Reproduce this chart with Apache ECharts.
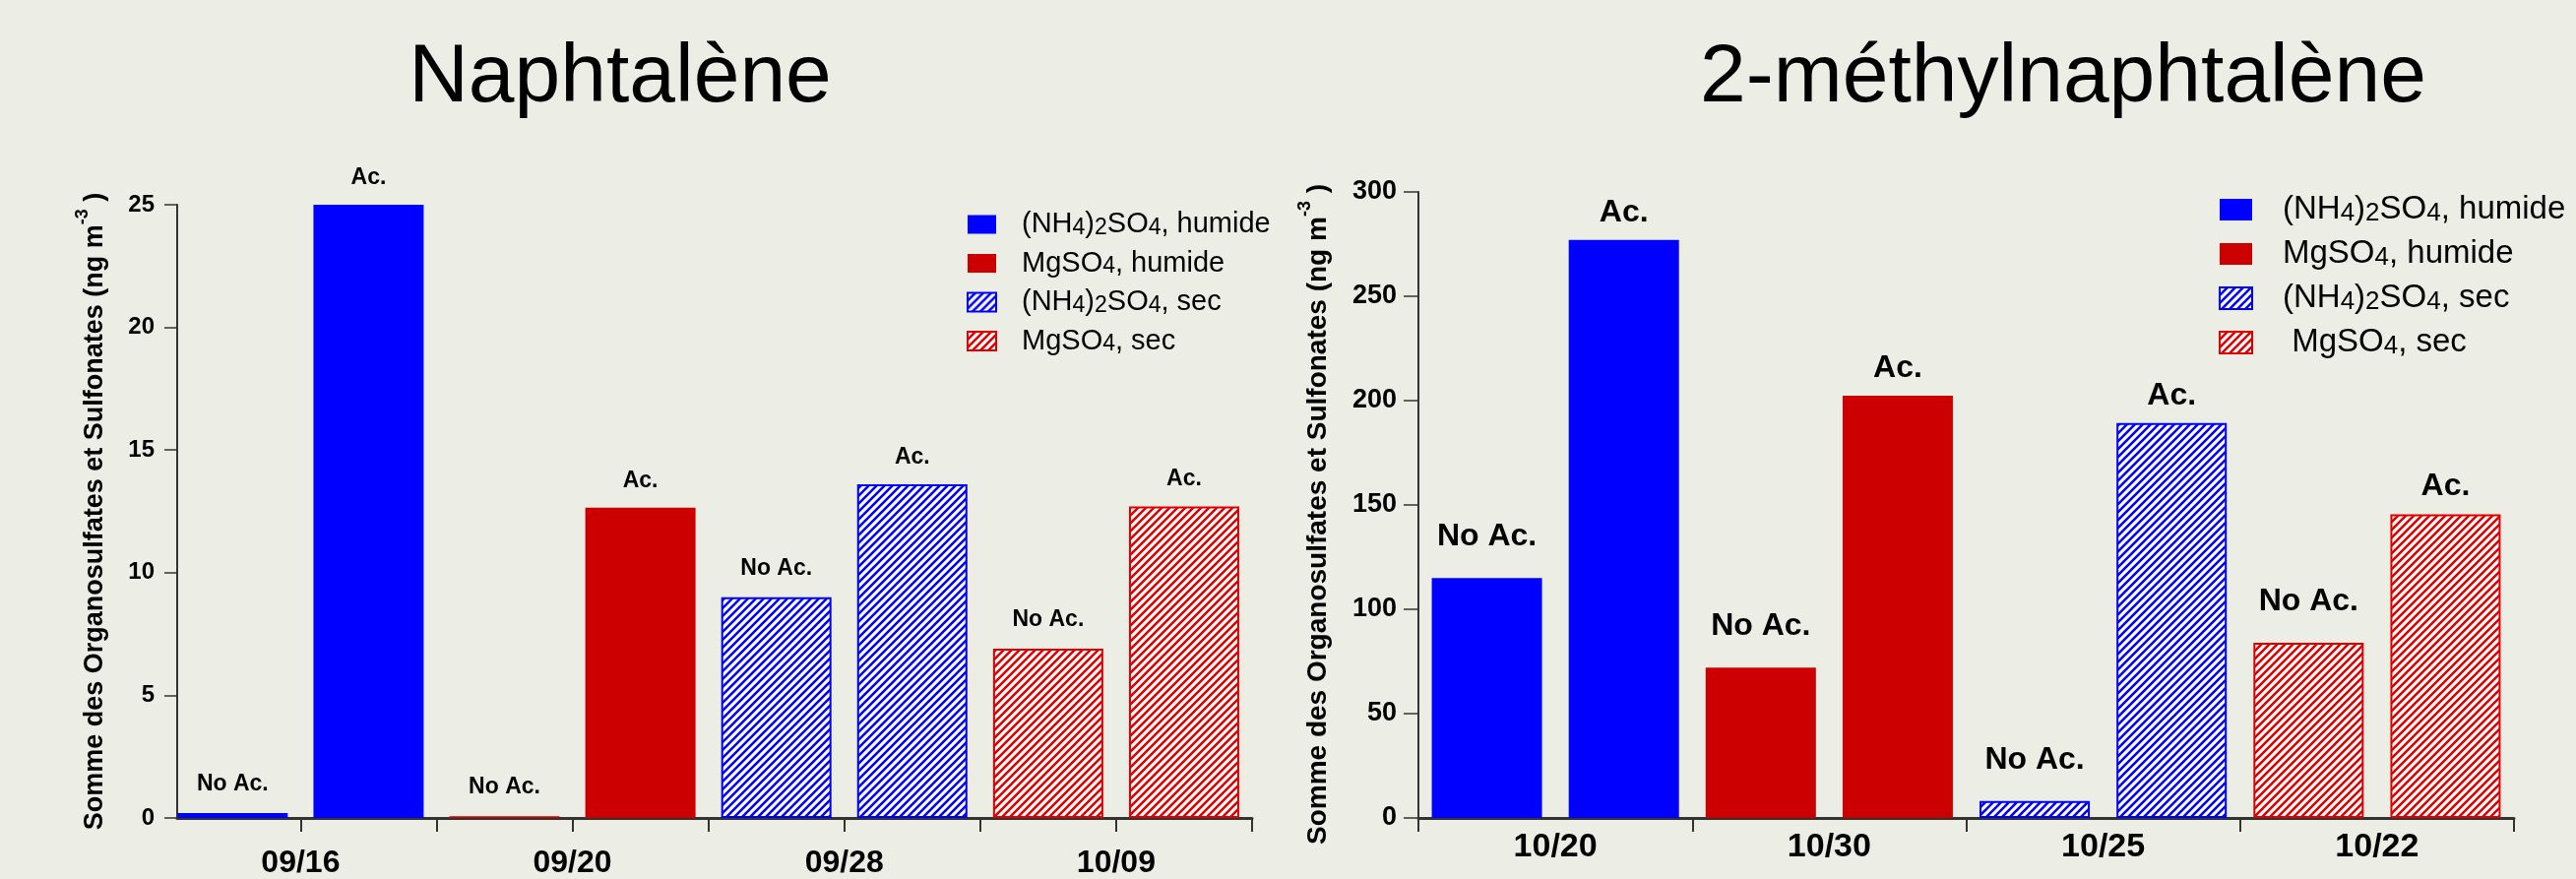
<!DOCTYPE html>
<html><head><meta charset="utf-8">
<script src="https://cdn.jsdelivr.net/npm/echarts@6/dist/echarts.min.js"></script>
<style>html,body{margin:0;padding:0;background:#ECEEE6}#c{width:2617px;height:893px}</style>
</head><body><div id="c"></div>
<script>
// ---------- data ----------
const leftTitle = 'Naphtalène';
const rightTitle = '2-méthylnaphtalène';
const yAxisName = 'Somme des Organosulfates et Sulfonates (ng m{sup|-3} )';
const leftDates = ['09/16', '09/20', '09/28', '10/09'];
const rightDates = ['10/20', '10/30', '10/25', '10/22'];
const barTags = ['No Ac.', 'Ac.', 'No Ac.', 'Ac.', 'No Ac.', 'Ac.', 'No Ac.', 'Ac.'];
const leftValues = [0.2, 25, 0.07, 12.65, 9.0, 13.6, 6.9, 12.7];
const rightValues = [115, 277, 72, 202.4, 8.1, 189.3, 84, 145.5];
const leftLegend = ['(NH{s|4}){s|2}SO{s|4}, humide', 'MgSO{s|4}, humide', '(NH{s|4}){s|2}SO{s|4}, sec', 'MgSO{s|4}, sec'];
const rightLegend = ['(NH{s|4}){s|2}SO{s|4}, humide', 'MgSO{s|4}, humide', '(NH{s|4}){s|2}SO{s|4}, sec', ' MgSO{s|4}, sec'];
const leftYTicks = { min: 0, max: 25, interval: 5 };
const rightYTicks = { min: 0, max: 300, interval: 50 };

// ---------- helpers ----------
const F = 'Liberation Sans, Arial, sans-serif';
const BLUE = '#0000FF', RED = '#CC0000', RED_H = '#E00000';
function hatch(col) {
  const c = document.createElement('canvas');
  c.width = 8; c.height = 8;
  const g = c.getContext('2d');
  g.fillStyle = '#ffffff'; g.fillRect(0, 0, 8, 8);
  g.strokeStyle = col; g.lineWidth = 2.6; g.lineCap = 'square';
  g.beginPath();
  g.moveTo(-2, 10); g.lineTo(10, -2);
  g.moveTo(-6, 6); g.lineTo(6, -6);
  g.moveTo(2, 14); g.lineTo(14, 2);
  g.stroke();
  return { image: c, repeat: 'repeat' };
}
const itemStyles = [
  { color: BLUE },
  { color: RED },
  { color: hatch(BLUE), borderColor: BLUE, borderWidth: 2 },
  { color: hatch(RED_H), borderColor: RED_H, borderWidth: 2 }
];

// slot k (bar k) sits at k + 0.5 on the x value scale; two slots per date
const nSlots = barTags.length;
const slotBounds = Array.from({ length: nSlots }, (_, k) => k + 1);          // 1..8
const groupBounds = Array.from({ length: nSlots / 2 + 1 }, (_, k) => 2 * k); // 0,2,4,6,8
const groupCenters = Array.from({ length: nSlots / 2 }, (_, k) => 2 * k + 1); // 1,3,5,7

function makeSeries(prefix, values, xIdx, yIdx, labelSize, labelDist) {
  return [0, 1, 2, 3].map(i => ({
    name: prefix + i,
    type: 'bar',
    xAxisIndex: xIdx, yAxisIndex: yIdx,
    barGap: '-100%',
    barWidth: 112,
    itemStyle: itemStyles[i],
    data: values.map((v, j) => ({ value: [j + 0.5, v], label: { distance: labelDist[barTags[j]] } }))
      .filter((_, j) => Math.floor(j / 2) === i),
    label: {
      show: true, position: 'top',
      formatter: p => barTags[Math.floor(p.value[0])],
      fontFamily: F, fontWeight: 'bold', fontSize: labelSize, color: '#000'
    },
    emphasis: { disabled: true },
    animation: false
  }));
}

const axisLineStyle = w => ({ show: true, onZero: false, lineStyle: { color: '#333', width: w } });

function yName(size, gap, endPad) {
  return {
    name: yAxisName, nameLocation: 'middle', nameGap: gap, nameRotate: 90,
    nameTextStyle: { fontFamily: F, fontWeight: 'bold', fontSize: size, lineHeight: 44, color: '#000',
      padding: [0, endPad, 0, 0],
      rich: { sup: { fontFamily: F, fontWeight: 'bold', fontSize: Math.round(size * 0.66), lineHeight: 8, verticalAlign: 'top', color: '#000' } } }
  };
}

const option = {
  backgroundColor: '#ECEEE6',
  animation: false,
  title: [
    { text: leftTitle, left: 625, top: 33, textAlign: 'center',
      textStyle: { fontFamily: F, fontSize: 84, fontWeight: 'normal', color: '#000' } },
    { text: rightTitle, left: 2091, top: 33, textAlign: 'center',
      textStyle: { fontFamily: F, fontSize: 84, fontWeight: 'normal', color: '#000' } }
  ],
  legend: [
    { left: 977, top: 208, orient: 'vertical', icon: 'rect', itemWidth: 29, itemHeight: 19, itemGap: 9.5,
      selectedMode: false, data: ['L0', 'L1', 'L2', 'L3'],
      formatter: n => leftLegend[+n.slice(1)],
      textStyle: { fontFamily: F, fontSize: 29, lineHeight: 30, color: '#000', padding: [0, 0, 0, 21],
        rich: { s: { fontFamily: F, fontSize: 23, lineHeight: 15, verticalAlign: 'bottom', color: '#000' } } } },
    { left: 2249, top: 191, orient: 'vertical', icon: 'rect', itemWidth: 33, itemHeight: 22, itemGap: 11,
      selectedMode: false, data: ['R0', 'R1', 'R2', 'R3'],
      formatter: n => rightLegend[+n.slice(1)],
      textStyle: { fontFamily: F, fontSize: 33, lineHeight: 34, color: '#000', padding: [0, 0, 0, 26],
        rich: { s: { fontFamily: F, fontSize: 26, lineHeight: 17, verticalAlign: 'bottom', color: '#000' } } } }
  ],
  grid: [
    { left: 180, top: 208, width: 1092, height: 623 },
    { left: 1441, top: 195, width: 1113, height: 636 }
  ],
  xAxis: [
    { type: 'value', gridIndex: 0, min: 0.092, max: nSlots, splitLine: { show: false },
      axisLine: axisLineStyle(3),
      axisTick: { show: true, customValues: slotBounds, length: 14, lineStyle: { color: '#333', width: 2 } },
      axisLabel: { show: true, customValues: groupCenters, formatter: v => leftDates[(v - 1) / 2],
        margin: 30, fontFamily: F, fontWeight: 'bold', fontSize: 32, color: '#000' } },
    { type: 'value', gridIndex: 1, min: 0, max: nSlots, splitLine: { show: false },
      axisLine: axisLineStyle(3),
      axisTick: { show: true, customValues: groupBounds, length: 14, lineStyle: { color: '#333', width: 2 } },
      axisLabel: { show: true, customValues: groupCenters, formatter: v => rightDates[(v - 1) / 2],
        margin: 13, fontFamily: F, fontWeight: 'bold', fontSize: 34, color: '#000' } }
  ],
  yAxis: [
    Object.assign({ type: 'value', gridIndex: 0, min: leftYTicks.min, max: leftYTicks.max, interval: leftYTicks.interval,
      splitLine: { show: false }, axisLine: axisLineStyle(2),
      axisTick: { show: true, length: 13, lineStyle: { color: '#333', width: 1.5 } },
      axisLabel: { margin: 23, fontFamily: F, fontWeight: 'bold', fontSize: 24, color: '#000' } }, yName(27, 61, 0)),
    Object.assign({ type: 'value', gridIndex: 1, min: rightYTicks.min, max: rightYTicks.max, interval: rightYTicks.interval,
      splitLine: { show: false }, axisLine: axisLineStyle(2),
      axisTick: { show: true, length: 15, lineStyle: { color: '#333', width: 1.5 } },
      axisLabel: { margin: 22, fontFamily: F, fontWeight: 'bold', fontSize: 27, color: '#000' } }, yName(28, 80, 19))
  ],
  series: [
    ...makeSeries('L', leftValues, 0, 0, 23, { 'No Ac.': 18, 'Ac.': 16 }),
    ...makeSeries('R', rightValues, 1, 1, 32, { 'No Ac.': 26, 'Ac.': 12 })
  ]
};

const chart = echarts.init(document.getElementById('c'), null, { renderer: 'canvas', width: 2617, height: 893 });
chart.setOption(option);
</script>
</body></html>
